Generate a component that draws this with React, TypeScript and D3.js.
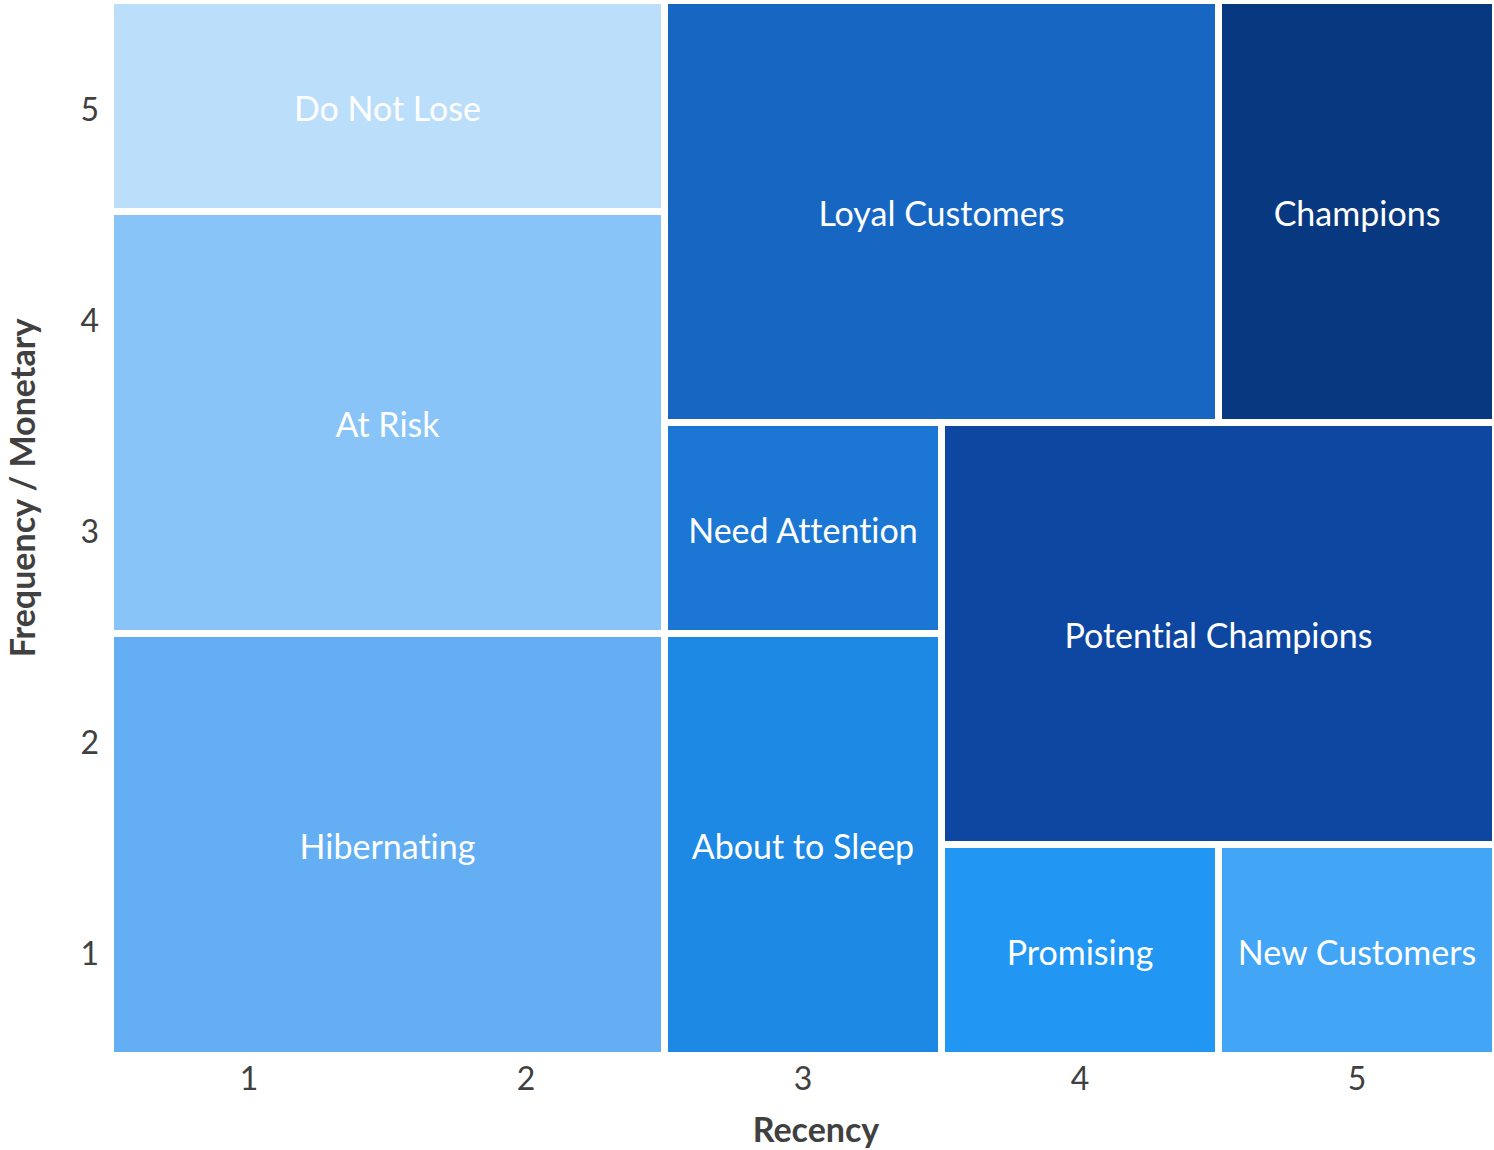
import React from "react";
import * as d3 from "d3";

const segments = [
  "Do Not Lose",
  "At Risk",
  "Hibernating",
  "Loyal Customers",
  "Champions",
  "Need Attention",
  "About to Sleep",
  "Potential Champions",
  "Promising",
  "New Customers",
];
const recencyFrom = [0.5, 0.5, 0.5, 2.5, 4.5, 2.5, 2.5, 3.5, 3.5, 4.5];
const recencyTo = [2.5, 2.5, 2.5, 4.5, 5.5, 3.5, 3.5, 5.5, 4.5, 5.5];
const freqFrom = [4.5, 2.5, 0.5, 3.5, 3.5, 2.5, 0.5, 1.5, 0.5, 0.5];
const freqTo = [5.5, 4.5, 2.5, 5.5, 5.5, 3.5, 2.5, 3.5, 1.5, 1.5];
const segmentColors = [
  "#BBDEFB",
  "#88C4F8",
  "#64AEF4",
  "#1766C2",
  "#08387F",
  "#1B77D3",
  "#1E88E5",
  "#0E47A1",
  "#2196F3",
  "#42A5F5",
];
const xTicks = [1, 2, 3, 4, 5];
const yTicks = [1, 2, 3, 4, 5];
const xTitle = "Recency";
const yTitle = "Frequency / Monetary";

const W = 1494;
const H = 1150;
const FONT = "Lato, 'Open Sans', sans-serif";

export default function App() {
  const x = d3.scaleLinear().domain([0.5, 5.5]).range([110.5, 1495.5]);
  const y = d3.scaleLinear().domain([0.5, 5.5]).range([1055.5, 0.5]);
  const gap = 3.5;
  const noLig = { fontVariantLigatures: "none" as const, fontFeatureSettings: "'liga' 0" };

  return (
    <svg
      width={W}
      height={H}
      style={{ position: "absolute", left: 0, top: 0, background: "#fff" }}
    >
      <g>
        {segments.map((name, i) => {
          const x0 = x(recencyFrom[i]) + gap;
          const x1 = x(recencyTo[i]) - gap;
          const y0 = y(freqTo[i]) + gap;
          const y1 = y(freqFrom[i]) - gap;
          return (
            <rect
              key={name}
              x={x0}
              y={y0}
              width={x1 - x0}
              height={y1 - y0}
              fill={segmentColors[i]}
            />
          );
        })}
      </g>
      <g>
        {segments.map((name, i) => {
          const cx = (x(recencyFrom[i]) + x(recencyTo[i])) / 2;
          const cy = (y(freqFrom[i]) + y(freqTo[i])) / 2;
          return (
            <text
              key={name}
              x={cx}
              y={cy + 14.5}
              textAnchor="middle"
              fill="#ffffff"
              fontFamily={FONT}
              fontSize={34}
              style={noLig}
            >
              {name}
            </text>
          );
        })}
      </g>
      <g>
        {xTicks.map((t) => (
          <text
            key={"x" + t}
            x={x(t)}
            y={1090}
            textAnchor="middle"
            fill="#404040"
            fontFamily={FONT}
            fontSize={32}
          >
            {t}
          </text>
        ))}
        {yTicks.map((t) => (
          <text
            key={"y" + t}
            x={99}
            y={y(t) + 14.5}
            textAnchor="end"
            fill="#404040"
            fontFamily={FONT}
            fontSize={32}
          >
            {t}
          </text>
        ))}
      </g>
      <text
        x={816}
        y={1142}
        textAnchor="middle"
        fill="#404040"
        fontFamily={FONT}
        fontWeight="bold"
        fontSize={34}
      >
        {xTitle}
      </text>
      <text
        transform={`translate(35,488) rotate(-90)`}
        textAnchor="middle"
        fill="#404040"
        fontFamily={FONT}
        fontWeight="bold"
        fontSize={34}
      >
        {yTitle}
      </text>
    </svg>
  );
}
